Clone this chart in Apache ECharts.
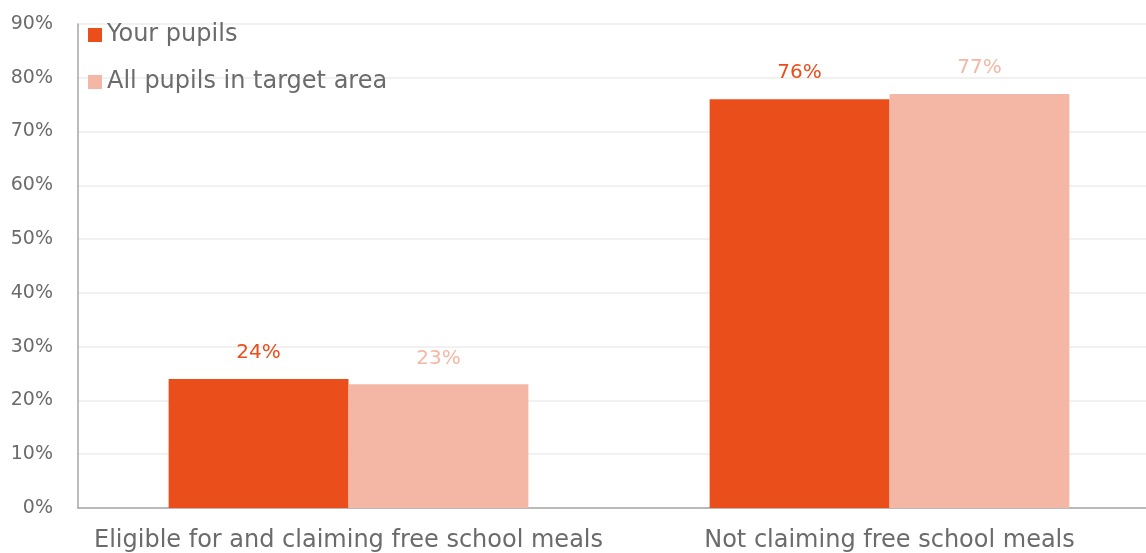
<!DOCTYPE html>
<html>
<head>
<meta charset="utf-8">
<script src="https://cdn.jsdelivr.net/npm/echarts@6/dist/echarts.min.js"></script>
<style>
  html, body { margin: 0; padding: 0; background: #fff; }
  #chart { width: 1146px; height: 553px; }
</style>
</head>
<body>
<div id="chart"></div>
<script>
// ===== data =====
const categories = ['Eligible for and claiming free school meals', 'Not claiming free school meals']
const yourPupils = [24, 76]
const allPupils = [23, 77]
const seriesNames = ['Your pupils', 'All pupils in target area']

const FONT = '"DejaVu Sans", sans-serif'
const TEXT = '#6b6b6b'
const DARK = '#E94E1B'
const LIGHT = '#F5B7A5'

const chart = echarts.init(document.getElementById('chart'))

chart.setOption({
  animation: false,
  textStyle: { fontFamily: FONT },
  // plot area runs a little past the right edge of the window
  grid: { left: 78, top: 24, width: 1082, bottom: 45, containLabel: false, outerBoundsMode: 'none' },
  legend: {
    orient: 'vertical',
    left: 83,
    top: 18,
    itemWidth: 14,
    itemHeight: 14,
    itemGap: 23,
    icon: 'rect',
    textStyle: { fontSize: 24, color: TEXT, fontFamily: FONT },
    data: seriesNames,
  },
  xAxis: {
    type: 'category',
    data: categories,
    axisLine: { lineStyle: { color: '#a6a6a6', width: 1.5 } },
    axisTick: { show: false },
    axisLabel: { fontSize: 24, color: TEXT, margin: 21, interval: 0 },
  },
  yAxis: {
    type: 'value',
    min: 0,
    max: 90,
    interval: 10,
    axisLine: { show: true, lineStyle: { color: '#a6a6a6', width: 1.5 } },
    axisLabel: { fontSize: 19, color: TEXT, margin: 25, formatter: '{value}%' },
    splitLine: { lineStyle: { color: '#ececec', width: 1.5 } },
  },
  series: [
    {
      name: seriesNames[0],
      type: 'bar',
      data: yourPupils,
      barGap: '0%',
      barCategoryGap: '33.5%',
      itemStyle: { color: DARK },
      label: { show: true, position: 'top', distance: 16, fontSize: 20, color: DARK, formatter: '{c}%' },
    },
    {
      name: seriesNames[1],
      type: 'bar',
      data: allPupils,
      barGap: '0%',
      barCategoryGap: '33.5%',
      itemStyle: { color: LIGHT },
      label: { show: true, position: 'top', distance: 16, fontSize: 20, color: LIGHT, formatter: '{c}%' },
    },
  ],
})
</script>
</body>
</html>
